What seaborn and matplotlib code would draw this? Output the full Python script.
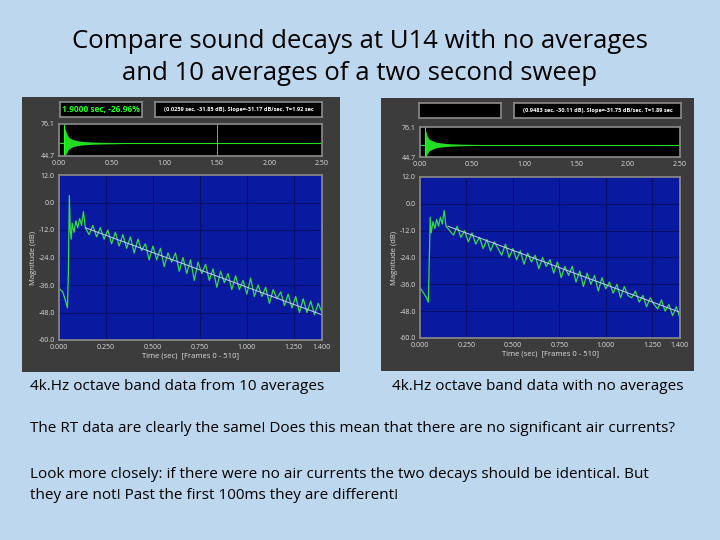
import matplotlib
matplotlib.use("Agg")
import matplotlib.pyplot as plt
import seaborn as sns
import numpy as np

sns.set_theme(style="dark")
plt.rcParams['font.family'] = ['Open Sans', 'DejaVu Sans']

title_lines = ["Compare sound decays at U14 with no averages", "and 10 averages of a two second sweep"]
caption_left = "4k.Hz octave band data from 10 averages"
caption_right = "4k.Hz octave band data with no averages"
para1 = "The RT data are clearly the same! Does this mean that there are no significant air currents?"
para2 = ("Look more closely: if there were no air currents the two decays should be identical. But\n"
         "they are not! Past the first 100ms they are different!")

main_yticks = [12.0, 0.0, -12.0, -24.0, -36.0, -48.0, -60.0]
main_xticks = [0.0, 0.25, 0.5, 0.75, 1.0, 1.25, 1.4]
top_yticks = [44.7, 76.1]
top_xticks = [0.0, 0.5, 1.0, 1.5, 2.0, 2.5]

pre_t_left = [0.00, 0.02, 0.035, 0.045, 0.050, 0.055, 0.060, 0.065, 0.07, 0.08, 0.09, 0.10, 0.11, 0.12, 0.13, 0.14]
pre_v_left = [-37.5, -39, -43, -46, -30, 3, -12, -16, -9, -13, -8, -11, -7, -10, -4, -11]
decay_t = [round(0.16 + 0.02 * i, 2) for i in range(63)]
decay_v_left = [-14, -10, -15, -11, -16, -12, -18, -13, -19, -14, -20, -15, -22, -16, -21, -18, -25, -19,
                -25, -20, -28, -22, -26, -22, -30, -24, -31, -25, -34, -26, -31, -27, -34, -29, -37, -30,
                -35, -31, -38, -32, -38, -34, -40, -33, -41, -36, -41, -37, -44, -38, -42, -39, -45, -40,
                -46, -41, -48, -42, -48, -43, -49, -44, -48]
fit_left_t = [0.14, 1.40]
fit_left_v = [-11.0, -49.0]

pre_t_right = [0.00, 0.02, 0.035, 0.045, 0.050, 0.055, 0.060, 0.07, 0.08, 0.09, 0.10, 0.11, 0.12, 0.13, 0.14]
pre_v_right = [-37.5, -40, -42, -44, -25, -6, -13, -8, -11, -7, -10, -6, -9, -3, -10]
decay_v_right = [-12, -14, -10, -15, -12, -17, -13, -18, -15, -20, -16, -21, -17, -20, -23, -18, -24, -20,
                 -25, -21, -27, -22, -26, -23, -29, -24, -28, -25, -31, -26, -33, -28, -32, -28, -35, -30,
                 -37, -31, -36, -32, -39, -33, -38, -35, -40, -36, -42, -37, -41, -42, -39, -44, -41, -46,
                 -42, -45, -47, -43, -48, -45, -50, -46, -51]
fit_right_t = [0.15, 1.40]
fit_right_v = [-10.0, -48.5]

env_t = [0.05, 0.07, 0.09, 0.12, 0.15, 0.2, 0.25, 0.3, 0.4, 0.5, 0.6, 0.7]
env_left = [16, 10, 6, 4, 3, 2, 1.5, 1.2, 0.8, 0.6, 0.4, 0.2]
env_right = [16, 9, 6, 4.5, 3, 2.2, 1.6, 1.2, 0.8, 0.6, 0.5, 0.3]

W, H = 720, 540
fig = plt.figure(figsize=(7.2, 5.4), dpi=100)
fig.patch.set_facecolor('#BDD7EE')

def px(x0, y0, x1, y1):
    return [x0 / W, 1 - y1 / H, (x1 - x0) / W, (y1 - y0) / H]

fig.text(0.5, 1 - 42 / H, title_lines[0], ha='center', va='center', fontsize=18.5, color='black')
fig.text(0.5, 1 - 74 / H, title_lines[1], ha='center', va='center', fontsize=18.5, color='black')

def panel(frame, top, main, header_left, header_right, pre_t, pre_v, dv, ft, fv, env, cursor):
    fr = fig.add_axes(px(*frame))
    fr.set_facecolor('#3c3c3c')
    fr.set_xticks([]); fr.set_yticks([])
    for s in fr.spines.values():
        s.set_visible(False)
    fx0, fy0, fx1, fy1 = frame
    hb1 = fig.add_axes(px(fx0 + 38, fy0 + 5, fx0 + 120, fy0 + 20))
    hb2 = fig.add_axes(px(fx0 + 133, fy0 + 5, fx0 + 300, fy0 + 20))
    for hb, txt, col, fs in ((hb1, header_left, '#22ff22', 6.0), (hb2, header_right, 'white', 4.1)):
        hb.set_facecolor('black')
        hb.set_xticks([]); hb.set_yticks([])
        for s in hb.spines.values():
            s.set_color('#888888')
        hb.text(0.5, 0.5, txt, ha='center', va='center', fontsize=fs, color=col,
                fontweight='bold', transform=hb.transAxes)
    at = fig.add_axes(px(*top))
    at.set_facecolor('black')
    base = 57.3
    at.axhline(base, color='#22dd22', lw=0.8)
    at.fill_between(env_t, [base - e for e in env], [base + e for e in env], color='#22dd22', lw=0)
    at.axvline(0.05, color='#22ff22', lw=0.8)
    if cursor:
        at.axvline(1.5, color='#aaaaaa', lw=0.6)
    at.set_xlim(0, 2.5); at.set_ylim(44.7, 76.1)
    at.set_xticks(top_xticks); at.set_xticklabels([f"{v:.2f}" for v in top_xticks])
    at.set_yticks(top_yticks); at.set_yticklabels([f"{v:.1f}" for v in top_yticks])
    at.tick_params(colors='#dddddd', labelsize=5, length=2, pad=1)
    for s in at.spines.values():
        s.set_color('#888888')
    am = fig.add_axes(px(*main))
    am.set_facecolor('#0a1aa0')
    t = list(pre_t) + decay_t
    v = list(pre_v) + dv
    sns.lineplot(x=t, y=v, ax=am, color='#33dd44', lw=0.9)
    sns.lineplot(x=ft, y=fv, ax=am, color='#ccccff', lw=0.7)
    am.set_xlim(0, 1.4); am.set_ylim(-60, 12)
    am.set_xticks(main_xticks); am.set_xticklabels([f"{v:.3f}" for v in main_xticks])
    am.set_yticks(main_yticks); am.set_yticklabels([f"{v:.1f}" for v in main_yticks])
    am.grid(True, color='#08106a', lw=0.8)
    am.tick_params(colors='#dddddd', labelsize=5, length=2, pad=1)
    am.set_xlabel("Time (sec)  [Frames 0 - 510]", color='#dddddd', fontsize=5.5, labelpad=1)
    am.set_ylabel("Magnitude (dB)", color='#dddddd', fontsize=5.5, labelpad=1)
    for s in am.spines.values():
        s.set_color('#888888')

panel((22, 97, 340, 372), (59, 124, 322, 156), (59, 175, 322, 340),
      "1.9000 sec, -26.96%", "(0.0259 sec, -31.85 dB), Slope=-31.17 dB/sec, T=1.92 sec",
      pre_t_left, pre_v_left, decay_v_left, fit_left_t, fit_left_v, env_left, True)
panel((381, 98, 694, 371), (420, 127, 680, 157), (420, 177, 680, 338),
      "", "(0.9483 sec, -30.11 dB), Slope=-31.75 dB/sec, T=1.89 sec",
      pre_t_right, pre_v_right, decay_v_right, fit_right_t, fit_right_v, env_right, False)

kw = dict(ha='left', va='center', fontsize=11.0, color='black')
fig.text(30 / W, 1 - 387 / H, caption_left, **kw)
fig.text(392 / W, 1 - 387 / H, caption_right, **kw)
fig.text(30 / W, 1 - 429 / H, para1, **kw)
fig.text(30 / W, 1 - 485 / H, para2, linespacing=1.5, **kw)

fig.savefig("out.png", dpi=100, facecolor=fig.get_facecolor())
